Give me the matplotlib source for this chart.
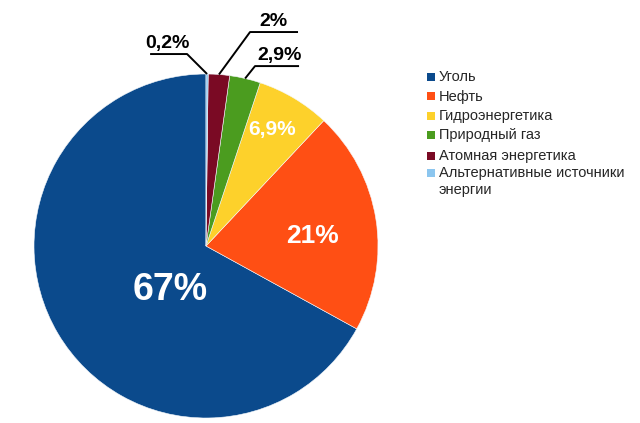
import matplotlib
matplotlib.use("Agg")
import matplotlib.pyplot as plt
from matplotlib.patches import Rectangle
import numpy as np

plt.rcParams['font.family'] = ['Liberation Sans', 'DejaVu Sans']

categories = ["Уголь", "Нефть", "Гидроэнергетика", "Природный газ",
              "Атомная энергетика", "Альтернативные источники\nэнергии"]
values = [67, 21, 6.9, 2.9, 2, 0.2]
value_labels = ["67%", "21%", "6,9%", "2,9%", "2%", "0,2%"]
colors = ["#0b4a8c", "#ff4f14", "#fdd12b", "#4b9c1f", "#7a0a24", "#8cc6ef"]

W, H = 640, 423
fig = plt.figure(figsize=(W / 100, H / 100), dpi=100)
cx, cy, R = 206, 246, 172
ax = fig.add_axes([(cx - R) / W, (H - cy - R) / H, 2 * R / W, 2 * R / H])
ax.set_aspect('equal')
ax.axis('off')

wedges, _ = ax.pie(values, colors=colors, startangle=90, counterclock=True,
                   radius=1, center=(0, 0), frame=False,
                   wedgeprops=dict(linewidth=0.4, edgecolor='#f4f8fc'))
ax.set_xlim(-1, 1)
ax.set_ylim(-1, 1)

# inner labels (text positions in data units)
inner = {0: ((-0.21, -0.255), 27, 'bold'),
         1: ((0.622, 0.06), 19, 'bold'),
         2: ((0.384, 0.68), 15, 'bold')}
for i, (pos, fs, fw) in inner.items():
    ax.text(pos[0], pos[1], value_labels[i], color='white', fontsize=fs,
            fontweight=fw, ha='center', va='center')

# outer labels with leader lines: (elbow, underline end, text x)
outer = {5: ((-0.11, 1.116), -0.325, -0.225),
         4: ((0.256, 1.244), 0.535, 0.392),
         3: ((0.285, 1.046), 0.541, 0.425)}
for i, (elbow, xend, tx) in outer.items():
    w = wedges[i]
    ang = np.deg2rad((w.theta1 + w.theta2) / 2)
    ex, ey = np.cos(ang), np.sin(ang)
    ax.plot([ex, elbow[0], xend], [ey, elbow[1], elbow[1]], color='black',
            lw=1.4, clip_on=False, solid_capstyle='butt')
    ax.text(tx, elbow[1] + 0.01, value_labels[i], color='black', fontsize=14,
            fontweight='bold', ha='center', va='bottom')

# legend (pixel layout: marker left, text left, row centres, line step)
mx, tx0, msize, line_step = 427, 439, 8, 17
row_y = [77, 96.5, 116, 135.5, 155.5, 173]
for col, label, y in zip(colors, categories, row_y):
    fig.patches.append(Rectangle(((mx) / W, 1 - (y + msize / 2) / H),
                                 msize / W, msize / H, transform=fig.transFigure,
                                 facecolor=col, edgecolor='none'))
    for k, line in enumerate(label.split('\n')):
        fig.text(tx0 / W, 1 - (y + k * line_step) / H, line, fontsize=10.5,
                 color='#262626', ha='left', va='center')

fig.savefig("out.png", dpi=100, facecolor='white')
